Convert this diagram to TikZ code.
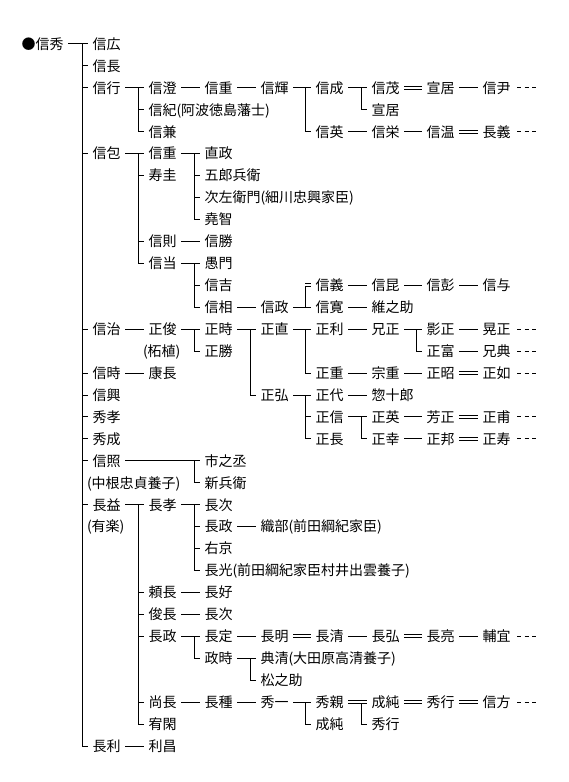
\documentclass[tikz,border=0pt]{standalone}
\usepackage{fontspec}
\newfontfamily\jpf{Noto Sans CJK JP}
\newcommand\cS[2]{\draw ([xshift=4pt]#1.east) -- ([xshift=-4pt]#2.west);}
\newcommand\cD[2]{\draw[dbl] ([xshift=4pt]#1.east) -- ([xshift=-4pt]#2.west);}
\newcommand\cV[2]{\draw ([xshift=-10pt]#1.west) |- ([xshift=-4pt]#2.west);}
\newcommand\cT[1]{\draw ([xshift=-10pt]#1.west) -- ([xshift=-4pt]#1.west);}
\newcommand\cX[1]{\draw[dsh] ([xshift=6pt]#1.east) -- ++(19pt,0pt);}
\tikzset{
  nm/.style={anchor=west,inner sep=0pt,font=\jpf\fontsize{14pt}{14pt}\selectfont,text height=11.6pt,text depth=1pt},
  dbl/.style={double,double distance=2pt},
  dsh/.style={dash pattern=on 4pt off 3.5pt}
}
\begin{document}
\begin{tikzpicture}[x=1pt,y=-21.94pt,line width=1pt]
\useasboundingbox (0,-2.0055) rectangle (568,33.637);
\fill[white] (0,-2.0055) rectangle (568,33.637);
% column 0/1
\node[nm] (a0) at (21,0) {●信秀};
\node[nm] (b1) at (92,0) {信広};
\node[nm] (b2) at (92,1) {信長};
\node[nm] (b3) at (92,2) {信行};
\node[nm] (b4) at (92,5) {信包};
\node[nm] (b5) at (92,13) {信治};
\node[nm] (b6) at (92,15) {信時};
\node[nm] (b7) at (92,16) {信興};
\node[nm] (b8) at (92,17) {秀孝};
\node[nm] (b9) at (92,18) {秀成};
\node[nm] (b10) at (92,19) {信照};
\node[nm] (t2) at (86.5,20) {(中根忠貞養子)};
\node[nm] (b11) at (92,21) {長益};
\node[nm] (t3) at (86.5,22) {(有楽)};
\node[nm] (b12) at (92,32) {長利};
% column 2
\node[nm] (c1) at (148,2) {信澄};
\node[nm] (c2) at (148,3) {信紀(阿波徳島藩士)};
\node[nm] (c3) at (148,4) {信兼};
\node[nm] (c4) at (148,5) {信重};
\node[nm] (c5) at (148,6) {寿圭};
\node[nm] (c6) at (148,9) {信則};
\node[nm] (c7) at (148,10) {信当};
\node[nm] (c8) at (148,13) {正俊};
\node[nm] (t1) at (142.5,14) {(柘植)};
\node[nm] (c9) at (148,15) {康長};
\node[nm] (c10) at (148,21) {長孝};
\node[nm] (c11) at (148,25) {頼長};
\node[nm] (c12) at (148,26) {俊長};
\node[nm] (c13) at (148,27) {長政};
\node[nm] (c14) at (148,30) {尚長};
\node[nm] (c15) at (148,31) {宥閑};
\node[nm] (c16) at (148,32) {利昌};
% column 3
\node[nm] (d1) at (204,2) {信重};
\node[nm] (d2) at (204,5) {直政};
\node[nm] (d3) at (204,6) {五郎兵衛};
\node[nm] (d4) at (204,7) {次左衛門(細川忠興家臣)};
\node[nm] (d5) at (204,8) {堯智};
\node[nm] (d6) at (204,9) {信勝};
\node[nm] (d7) at (204,10) {愚門};
\node[nm] (d8) at (204,11) {信吉};
\node[nm] (d9) at (204,12) {信相};
\node[nm] (d10) at (204,13) {正時};
\node[nm] (d11) at (204,14) {正勝};
\node[nm] (d12) at (204,19) {市之丞};
\node[nm] (d13) at (204,20) {新兵衛};
\node[nm] (d14) at (204,21) {長次};
\node[nm] (d15) at (204,22) {長政};
\node[nm] (d16) at (204,23) {右京};
\node[nm] (d17) at (204,24) {長光(前田綱紀家臣村井出雲養子)};
\node[nm] (d18) at (204,25) {長好};
\node[nm] (d19) at (204,26) {長次};
\node[nm] (d20) at (204,27) {長定};
\node[nm] (d21) at (204,28) {政時};
\node[nm] (d22) at (204,30) {長種};
% column 4
\node[nm] (e1) at (260,2) {信輝};
\node[nm] (e2) at (260,12) {信政};
\node[nm] (e3) at (260,13) {正直};
\node[nm] (e4) at (260,16) {正弘};
\node[nm] (e5) at (260,22) {織部(前田綱紀家臣)};
\node[nm] (e6) at (260,27) {長明};
\node[nm] (e7) at (260,28) {典清(大田原高清養子)};
\node[nm] (e8) at (260,29) {松之助};
\node[nm] (e9) at (260,30) {秀一};
% column 5
\node[nm] (f1) at (315,2) {信成};
\node[nm] (f2) at (315,4) {信英};
\node[nm] (f3) at (315,11) {信義};
\node[nm] (f4) at (315,12) {信寛};
\node[nm] (f5) at (315,13) {正利};
\node[nm] (f6) at (315,15) {正重};
\node[nm] (f7) at (315,16) {正代};
\node[nm] (f8) at (315,17) {正信};
\node[nm] (f9) at (315,18) {正長};
\node[nm] (f10) at (315,27) {長清};
\node[nm] (f11) at (315,30) {秀親};
\node[nm] (f12) at (315,31) {成純};
% column 6
\node[nm] (g1) at (371,2) {信茂};
\node[nm] (g2) at (371,3) {宣居};
\node[nm] (g3) at (371,4) {信栄};
\node[nm] (g4) at (371,11) {信昆};
\node[nm] (g5) at (371,12) {維之助};
\node[nm] (g6) at (371,13) {兄正};
\node[nm] (g7) at (371,15) {宗重};
\node[nm] (g8) at (371,16) {惣十郎};
\node[nm] (g9) at (371,17) {正英};
\node[nm] (g10) at (371,18) {正幸};
\node[nm] (g11) at (371,27) {長弘};
\node[nm] (g12) at (371,30) {成純};
\node[nm] (g13) at (371,31) {秀行};
% column 7
\node[nm] (h1) at (426,2) {宣居};
\node[nm] (h2) at (426,4) {信温};
\node[nm] (h3) at (426,11) {信彭};
\node[nm] (h4) at (426,13) {影正};
\node[nm] (h5) at (426,14) {正富};
\node[nm] (h6) at (426,15) {正昭};
\node[nm] (h7) at (426,17) {芳正};
\node[nm] (h8) at (426,18) {正邦};
\node[nm] (h9) at (426,27) {長亮};
\node[nm] (h10) at (426,30) {秀行};
% column 8
\node[nm] (i1) at (482,2) {信尹};
\node[nm] (i2) at (482,4) {長義};
\node[nm] (i3) at (482,11) {信与};
\node[nm] (i4) at (482,13) {晃正};
\node[nm] (i5) at (482,14) {兄典};
\node[nm] (i6) at (482,15) {正如};
\node[nm] (i7) at (482,17) {正甫};
\node[nm] (i8) at (482,18) {正寿};
\node[nm] (i9) at (482,27) {輔宜};
\node[nm] (i10) at (482,30) {信方};
% connectors
\cS{a0}{b1} \cV{b1}{b12}
\cT{b2}\cT{b3}\cT{b4}\cT{b5}\cT{b6}\cT{b7}\cT{b8}\cT{b9}\cT{b10}\cT{b11}
\cS{b3}{c1} \cV{c1}{c3} \cT{c2}
\cS{c1}{d1} \cS{d1}{e1} \cS{e1}{f1} \cV{f1}{f2}
\cS{f1}{g1} \cV{g1}{g2}
\cD{g1}{h1} \cS{h1}{i1} \cX{i1}
\cS{f2}{g3} \cS{g3}{h2} \cD{h2}{i2} \cX{i2}
\cS{b4}{c4} \cV{c4}{c7} \cT{c5}\cT{c6}
\cS{c4}{d2} \cV{d2}{d5} \cT{d3}\cT{d4}
\cS{c6}{d6}
\cS{c7}{d7} \cV{d7}{d9} \cT{d8}
\cS{d9}{e2} \cS{e2}{f4}
\draw[dbl] ([xshift=-10pt]f3.west) -- ([xshift=-4pt]f3.west);
\draw ([xshift=-10pt,yshift=-1pt]f3.west) -- ([xshift=-10pt]f4.west);
\cS{f3}{g4} \cS{g4}{h3} \cS{h3}{i3}
\cS{f4}{g5}
\cS{b5}{c8} \cS{c8}{d10} \cV{d10}{d11}
\cS{d10}{e3} \cV{e3}{e4}
\cS{e3}{f5} \cV{f5}{f6}
\cS{f5}{g6} \cS{g6}{h4} \cV{h4}{h5}
\cS{h4}{i4} \cX{i4} \cS{h5}{i5} \cX{i5}
\cS{f6}{g7} \cS{g7}{h6} \cD{h6}{i6} \cX{i6}
\cS{e4}{f7} \cV{f7}{f9} \cT{f8}
\cS{f7}{g8}
\cS{f8}{g9} \cV{g9}{g10}
\cS{g9}{h7} \cD{h7}{i7} \cX{i7}
\cS{g10}{h8} \cD{h8}{i8} \cX{i8}
\cS{b6}{c9}
\cS{b10}{d12} \cV{d12}{d13}
\cS{b11}{c10} \cV{c10}{c15} \cT{c11}\cT{c12}\cT{c13}\cT{c14}
\cS{c10}{d14} \cV{d14}{d17} \cT{d15}\cT{d16}
\cS{d15}{e5}
\cS{c11}{d18} \cS{c12}{d19}
\cS{c13}{d20} \cV{d20}{d21}
\cS{d20}{e6} \cD{e6}{f10} \cS{f10}{g11} \cD{g11}{h9} \cS{h9}{i9} \cX{i9}
\cS{d21}{e7} \cV{e7}{e8}
\cS{c14}{d22} \cS{d22}{e9} \cS{e9}{f11} \cV{f11}{f12}
\cD{f11}{g12}
\draw ([xshift=-10pt,yshift=-1pt]g12.west) |- ([xshift=-4pt]g13.west);
\cD{g12}{h10} \cD{h10}{i10} \cX{i10}
\cS{b12}{c16}
\end{tikzpicture}
\end{document}
